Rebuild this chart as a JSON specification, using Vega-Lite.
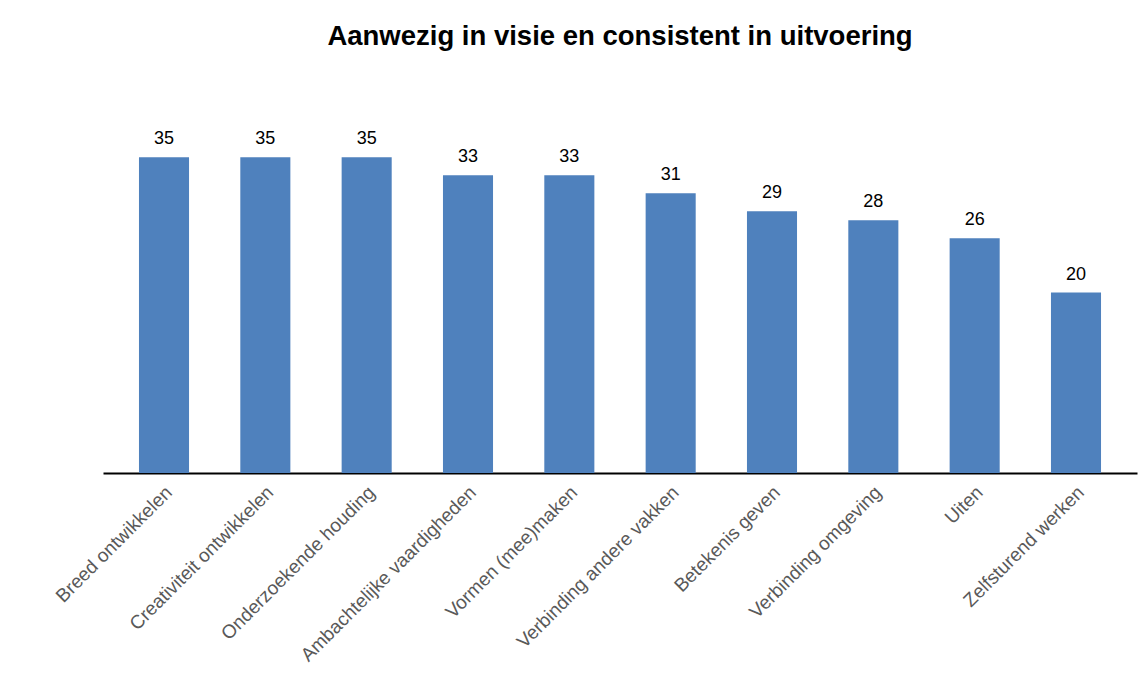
{
  "$schema": "https://vega.github.io/schema/vega-lite/v6.json",
  "width": 1034,
  "height": 361,
  "autosize": {"type": "none"},
  "padding": {"left": 103, "top": 112, "right": 4, "bottom": 200},
  "background": "white",
  "title": {
    "text": "Aanwezig in visie en consistent in uitvoering",
    "font": "Liberation Sans",
    "fontSize": 27.5,
    "fontWeight": "bold",
    "color": "#000000",
    "anchor": "middle",
    "offset": 62
  },
  "data": {
    "values": [
      {"categorie": "Breed ontwikkelen", "waarde": 35},
      {"categorie": "Creativiteit ontwikkelen", "waarde": 35},
      {"categorie": "Onderzoekende houding", "waarde": 35},
      {"categorie": "Ambachtelijke vaardigheden", "waarde": 33},
      {"categorie": "Vormen (mee)maken", "waarde": 33},
      {"categorie": "Verbinding andere vakken", "waarde": 31},
      {"categorie": "Betekenis geven", "waarde": 29},
      {"categorie": "Verbinding omgeving", "waarde": 28},
      {"categorie": "Uiten", "waarde": 26},
      {"categorie": "Zelfsturend werken", "waarde": 20}
    ]
  },
  "encoding": {
    "x": {
      "field": "categorie",
      "type": "nominal",
      "sort": null,
      "title": null,
      "scale": {"paddingInner": 0.506, "paddingOuter": 0.355},
      "axis": {
        "labelAngle": -45,
        "labelAlign": "right",
        "labelBaseline": "middle",
        "labelFont": "Liberation Sans",
        "labelFontSize": 19,
        "labelColor": "#595959",
        "labelPadding": 16,
        "labelOffset": 5,
        "ticks": false,
        "domainColor": "#000000",
        "domainWidth": 2,
        "labelLimit": 400
      }
    },
    "y": {
      "field": "waarde",
      "type": "quantitative",
      "scale": {"domain": [0, 40]},
      "axis": null
    }
  },
  "layer": [
    {"mark": {"type": "bar", "color": "#4F81BD"}},
    {
      "mark": {
        "type": "text",
        "baseline": "bottom",
        "dy": -9,
        "font": "Liberation Sans",
        "fontSize": 18,
        "color": "#000000"
      },
      "encoding": {"text": {"field": "waarde", "type": "quantitative"}}
    }
  ],
  "config": {"view": {"stroke": null}}
}
